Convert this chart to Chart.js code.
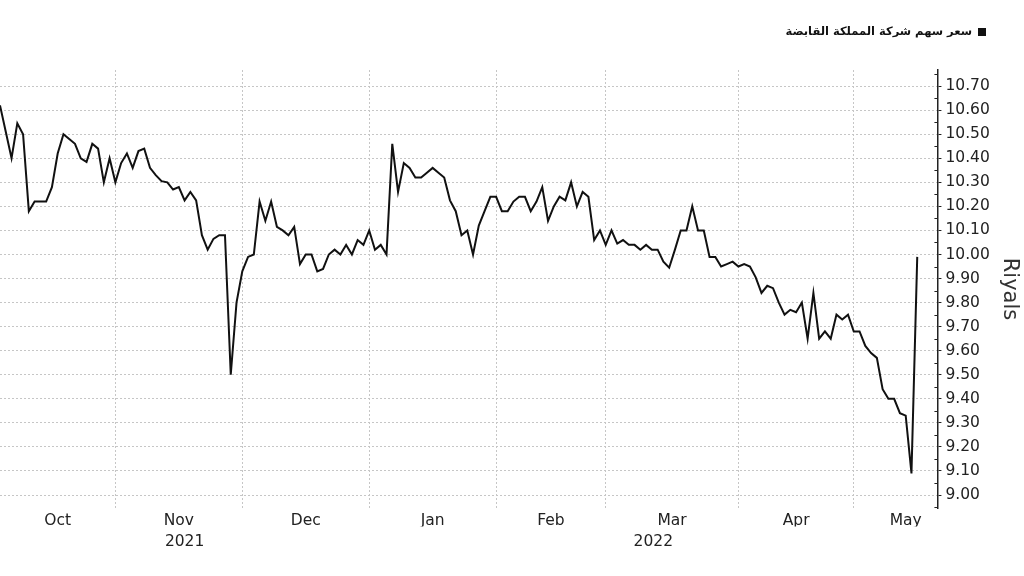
<!DOCTYPE html>
<html><head><meta charset="utf-8">
<script src="https://cdn.jsdelivr.net/npm/chart.js@4.4.1/dist/chart.umd.min.js"></script>
<style>html,body{margin:0;padding:0;background:#fff;overflow:hidden}</style>
</head><body>
<canvas id="c" width="1024" height="576"></canvas>
<script>
// ---- data ----
const seriesLabel = 'سعر سهم شركة المملكة القابضة';
const axisTitle = 'Riyals';
// daily (trading-day) closing prices, Oct 2021 – May 2022
const closes = [
  10.62,10.51,10.40,10.545,10.50,10.18,10.22,10.22,10.22,10.28,
  10.42,10.50,10.48,10.46,10.40,10.385,10.46,10.44,10.30,10.40,
  10.30,10.38,10.42,10.36,10.43,10.44,10.36,10.33,10.305,10.30,
  10.27,10.28,10.225,10.26,10.225,10.08,10.02,10.065,10.08,10.08,
  9.50,9.80,9.93,9.99,10.00,10.22,10.14,10.22,10.115,10.10,
  10.08,10.115,9.96,10.00,10.00,9.93,9.94,10.00,10.02,10.00,
  10.04,10.00,10.06,10.04,10.10,10.02,10.04,10.00,10.46,10.26,
  10.38,10.36,10.32,10.32,10.34,10.36,10.34,10.32,10.225,10.18,
  10.08,10.10,10.00,10.12,10.18,10.24,10.24,10.18,10.18,10.22,
  10.24,10.24,10.18,10.22,10.28,10.14,10.20,10.24,10.225,10.30,
  10.20,10.26,10.24,10.06,10.10,10.04,10.10,10.045,10.06,10.04,
  10.04,10.02,10.04,10.02,10.02,9.97,9.945,10.02,10.10,10.10,
  10.20,10.10,10.10,9.99,9.99,9.95,9.96,9.97,9.95,9.96,
  9.95,9.905,9.84,9.87,9.86,9.80,9.75,9.77,9.76,9.80,
  9.65,9.84,9.65,9.68,9.65,9.75,9.73,9.75,9.68,9.68,
  9.62,9.59,9.57,9.44,9.40,9.40,9.34,9.33,9.09,9.99
];
const monthNames = ['Oct','Nov','Dec','Jan','Feb','Mar','Apr','May'];
// index of first trading day of each month (last entry = start of following month)
const monthStart = [0,20,42,64,86,105,128,148,166];
const yearNames = ['2021','2022'];
const yearStart = [0,64];
const yTickValues = [9.00,9.10,9.20,9.30,9.40,9.50,9.60,9.70,9.80,9.90,10.00,10.10,10.20,10.30,10.40,10.50,10.60,10.70];

// ---- options ----
const X_MAX = 162.5;
const Y_MIN = 8.946, Y_MAX = 10.767;
const FONT = '"DejaVu Sans", sans-serif';
const gridColor = '#c6c6c6';
const textColor = '#222';

Chart.defaults.font.family = FONT;

const legendPlugin = {
  id: 'rtlLegend',
  afterDraw(chart, args, o) {
    const ctx = chart.ctx;
    ctx.save();
    ctx.fillStyle = '#111';
    ctx.fillRect(o.right - 8, o.y - 4, 8, 8);
    ctx.font = 'bold 11.5px ' + FONT;
    ctx.direction = 'rtl';
    ctx.textAlign = 'right';
    ctx.textBaseline = 'middle';
    ctx.fillText(chart.data.datasets[0].label, o.right - 14, o.y);
    ctx.restore();
  }
};

const minorTicks = {
  id: 'minorTicks',
  afterDraw(chart) {
    const s = chart.scales.y, ctx = chart.ctx;
    const vals = [];
    s.ticks.forEach((t, i) => {
      vals.push(t.value - 0.05);
      if (i === s.ticks.length - 1) vals.push(t.value + 0.05);
    });
    ctx.save();
    ctx.strokeStyle = '#222';
    ctx.lineWidth = 1;
    ctx.beginPath();
    vals.forEach(v => {
      if (v < s.min || v > s.max) return;
      const y = Math.round(s.getPixelForValue(v)) + 0.5;
      ctx.moveTo(s.left - 3, y);
      ctx.lineTo(s.left, y);
    });
    ctx.stroke();
    ctx.restore();
  }
};

new Chart(document.getElementById('c'), {
  type: 'line',
  data: {
    labels: closes.map((_, i) => i),
    datasets: [{
      label: seriesLabel,
      data: closes,
      borderColor: '#111',
      borderWidth: 2,
      pointRadius: 0,
      tension: 0,
      xAxisID: 'x',
      yAxisID: 'y'
    }]
  },
  options: {
    responsive: false,
    animation: false,
    devicePixelRatio: 1,
    layout: { padding: { top: 70, right: 0, bottom: 26, left: 0 } },
    plugins: {
      legend: { display: false },
      tooltip: { enabled: false },
      rtlLegend: { right: 986, y: 32 }
    },
    scales: {
      x: {
        type: 'linear', position: 'bottom', min: 0, max: X_MAX, bounds: 'data', weight: 0,
        afterBuildTicks: s => { s.ticks = monthStart.slice(1).filter(v => v < X_MAX).map(v => ({ value: v })); },
        ticks: { display: false },
        grid: { display: true, drawTicks: false, color: gridColor, lineWidth: 1 },
        border: { display: false, dash: [2, 2] }
      },
      xm: {
        type: 'linear', position: 'bottom', min: 0, max: X_MAX, bounds: 'data', weight: 1,
        afterBuildTicks: s => { s.ticks = monthNames.map((m, k) => ({ value: (monthStart[k] + monthStart[k + 1]) / 2 })); },
        ticks: {
          autoSkip: false, maxRotation: 0, padding: -2.5, color: textColor,
          font: { size: 15.5, lineHeight: 1 },
          callback: (v, i) => monthNames[i]
        },
        grid: { display: false },
        border: { display: false }
      },
      xy: {
        type: 'linear', position: 'bottom', min: 0, max: X_MAX, bounds: 'data', weight: 2,
        afterBuildTicks: s => { s.ticks = yearNames.map((y, k) => ({ value: (yearStart[k] + (k + 1 < yearStart.length ? yearStart[k + 1] : X_MAX)) / 2 })); },
        ticks: {
          autoSkip: false, maxRotation: 0, padding: 0, color: textColor,
          font: { size: 15.5, lineHeight: 1 },
          callback: (v, i) => yearNames[i]
        },
        grid: { display: false },
        border: { display: false }
      },
      y: {
        type: 'linear', position: 'right', min: Y_MIN, max: Y_MAX, bounds: 'data',
        afterBuildTicks: s => { s.ticks = yTickValues.map(v => ({ value: v })); },
        ticks: {
          autoSkip: false, padding: 4, color: textColor,
          font: { size: 15.5 },
          callback: v => Number(v).toFixed(2)
        },
        grid: {
          color: gridColor, lineWidth: 1, drawTicks: true, tickLength: 4,
          tickColor: '#222', tickWidth: 1, tickBorderDash: []
        },
        border: { display: true, color: '#222', width: 1.5, dash: [2, 2] },
        title: {
          display: true, text: axisTitle, color: '#333',
          font: { size: 21 }, padding: { top: 2, bottom: 3 }
        }
      }
    }
  },
  plugins: [legendPlugin, minorTicks]
});
</script>
</body></html>
